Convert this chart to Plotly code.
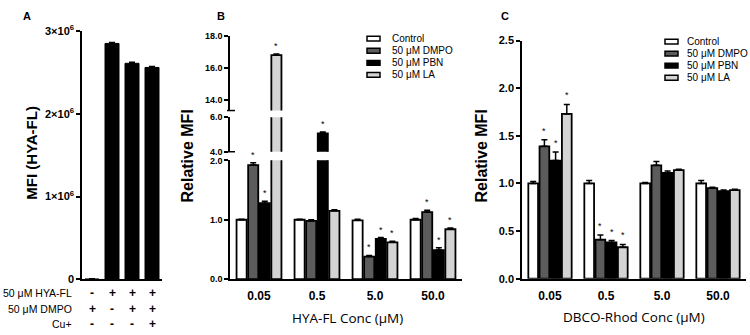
import plotly.graph_objects as go

W, H = 750, 335
FONT = "Liberation Sans"

# ---------------- Panel A data ----------------
a_values = [6e3, 2.85e6, 2.61e6, 2.56e6]
a_errors = [3e3, 1.2e4, 1.2e4, 1.0e4]
a_tickvals = [0, 1e6, 2e6, 3e6]
a_ticktext = ["0", "1×10<sup>6</sup>", "2×10<sup>6</sup>", "3×10<sup>6</sup>"]
a_row_labels = ["50 μM HYA-FL", "50 μM DMPO", "Cu+"]
a_hya = ["-", "+", "+", "+"]
a_dmpo = ["+", "-", "+", "+"]
a_cu = ["-", "-", "-", "+"]

# ---------------- Shared ----------------
conc_labels = ["0.05", "0.5", "5.0", "50.0"]
series_names = ["Control", "50 μM DMPO", "50 μM PBN", "50 μM LA"]
series_colors = ["#ffffff", "#5c5c5c", "#000000", "#d4d4d4"]

# ---------------- Panel B data ----------------
b_control = [1.00, 1.00, 0.99, 1.00]
b_dmpo = [1.92, 0.98, 0.38, 1.13]
b_pbn = [1.28, 5.07, 0.68, 0.49]
b_la = [16.79, 1.15, 0.62, 0.84]
b_control_err = [0.01, 0.01, 0.02, 0.02]
b_dmpo_err = [0.04, 0.02, 0.02, 0.03]
b_pbn_err = [0.03, 0.08, 0.02, 0.04]
b_la_err = [0.08, 0.02, 0.02, 0.02]
b_control_sig = [False, False, False, False]
b_dmpo_sig = [True, False, True, True]
b_pbn_sig = [True, True, True, True]
b_la_sig = [True, False, True, True]
b_segments = [(0, 2), (4, 6), (13.34, 18)]
b_seg_ticks = [[0, 1, 2], [4, 6], [14, 16, 18]]

# ---------------- Panel C data ----------------
c_control = [1.00, 1.00, 1.00, 1.00]
c_dmpo = [1.39, 0.41, 1.19, 0.95]
c_pbn = [1.24, 0.38, 1.11, 0.92]
c_la = [1.73, 0.33, 1.14, 0.93]
c_control_err = [0.02, 0.03, 0.01, 0.03]
c_dmpo_err = [0.07, 0.05, 0.04, 0.01]
c_pbn_err = [0.09, 0.02, 0.02, 0.01]
c_la_err = [0.10, 0.03, 0.01, 0.01]
c_control_sig = [False, False, False, False]
c_dmpo_sig = [True, True, False, False]
c_pbn_sig = [True, True, False, False]
c_la_sig = [True, True, False, False]

B_VALS = [b_control, b_dmpo, b_pbn, b_la]
B_ERRS = [b_control_err, b_dmpo_err, b_pbn_err, b_la_err]
B_SIGS = [b_control_sig, b_dmpo_sig, b_pbn_sig, b_la_sig]
C_VALS = [c_control, c_dmpo, c_pbn, c_la]
C_ERRS = [c_control_err, c_dmpo_err, c_pbn_err, c_la_err]
C_SIGS = [c_control_sig, c_dmpo_sig, c_pbn_sig, c_la_sig]

BARGAP = 0.2
BARGROUPGAP = 0.13


def px(x):
    return x / W


def py(y):
    return 1 - y / H


fig = go.Figure()
annotations = []
shapes = []

# ---------------- Panel A ----------------
xs = list(range(len(a_values)))
fig.add_trace(go.Bar(
    x=xs, y=a_values, width=0.7, xaxis="x", yaxis="y",
    marker=dict(color="black", line=dict(color="black", width=1)),
    error_y=dict(type="data", array=a_errors, arrayminus=[0] * 4, symmetric=False,
                 color="black", thickness=1.5, width=3),
    showlegend=False, hoverinfo="skip"))

for row, (label, signs) in enumerate(zip(a_row_labels, [a_hya, a_dmpo, a_cu])):
    yy = py([297, 314, 330][row])
    annotations.append(dict(x=px(74), y=yy, xref="paper", yref="paper", text=label,
                            showarrow=False, xanchor="right", yanchor="middle",
                            font=dict(family=FONT, size=10.5, color="black")))
    for i, s in enumerate(signs):
        annotations.append(dict(x=i, y=yy, xref="x", yref="paper", text="<b>%s</b>" % s,
                                showarrow=False, xanchor="center", yanchor="middle",
                                font=dict(family=FONT, size=12, color="black")))

# ---------------- Panel B (broken axis) ----------------
slot = (1 - BARGAP) / 4
b_axes = [("x2", "y2"), ("x3", "y3"), ("x4", "y4")]


def seg_index(v):
    for k in range(len(b_segments) - 1, -1, -1):
        if v >= b_segments[k][0]:
            return k
    return 0


for k, (xa, ya) in enumerate(b_axes):
    for j in range(4):
        vals = B_VALS[j]
        errs = [B_ERRS[j][i] if seg_index(vals[i]) == k else None for i in range(4)]
        fig.add_trace(go.Bar(
            x=list(range(4)), y=vals, xaxis=xa, yaxis=ya, name=series_names[j],
            marker=dict(color=series_colors[j], line=dict(color="black", width=1.8)),
            error_y=dict(type="data", array=errs, arrayminus=[0] * 4, symmetric=False,
                         color="black", thickness=1.5, width=3),
            showlegend=False, hoverinfo="skip"))
for j in range(4):
    for i in range(4):
        if B_SIGS[j][i]:
            v = B_VALS[j][i]
            k = seg_index(v)
            annotations.append(dict(x=i + (j - 1.5) * slot, y=v + B_ERRS[j][i],
                                    xref=b_axes[k][0], yref=b_axes[k][1], text="*",
                                    showarrow=False, xanchor="center", yanchor="bottom",
                                    yshift=1, font=dict(family=FONT, size=9, color="black")))

# break marks at segment ends
for yb in [107, 150]:
    shapes.append(dict(type="line", xref="paper", yref="paper", x0=px(227), x1=px(235),
                       y0=py(yb), y1=py(yb), line=dict(color="black", width=1.5)))

# ---------------- Panel C ----------------
for j in range(4):
    fig.add_trace(go.Bar(
        x=list(range(4)), y=C_VALS[j], xaxis="x5", yaxis="y5", name=series_names[j],
        marker=dict(color=series_colors[j], line=dict(color="black", width=1.8)),
        error_y=dict(type="data", array=C_ERRS[j], arrayminus=[0] * 4, symmetric=False,
                     color="black", thickness=1.5, width=3),
        showlegend=False, hoverinfo="skip"))
    for i in range(4):
        if C_SIGS[j][i]:
            annotations.append(dict(x=i + (j - 1.5) * slot, y=C_VALS[j][i] + C_ERRS[j][i],
                                    xref="x5", yref="y5", text="*", showarrow=False,
                                    xanchor="center", yanchor="bottom", yshift=2,
                                    font=dict(family=FONT, size=9, color="black")))

# ---------------- Legends (drawn) ----------------
for (lx, ly0, tx) in [(367, 32, 390), (665, 35, 685)]:
    for j, name in enumerate(series_names):
        yc = ly0 + j * 12.6
        shapes.append(dict(type="rect", xref="paper", yref="paper",
                           x0=px(lx), x1=px(lx + 13), y0=py(yc + 2.5), y1=py(yc - 2.5),
                           fillcolor=series_colors[j], line=dict(color="black", width=1.5)))
        annotations.append(dict(x=px(tx), y=py(yc), xref="paper", yref="paper", text=name,
                                showarrow=False, xanchor="left", yanchor="middle",
                                font=dict(family=FONT, size=10, color="black")))

# ---------------- Titles / panel letters ----------------
for letter, x in [("A", 27), ("B", 221), ("C", 505)]:
    annotations.append(dict(x=px(x), y=py(8), xref="paper", yref="paper", text="<b>%s</b>" % letter,
                            showarrow=False, xanchor="center", yanchor="middle",
                            font=dict(family=FONT, size=11, color="black")))
for text, x, y, fs in [("MFI (HYA-FL)", 32, 151, 15), ("Relative MFI", 188, 155, 16),
                       ("Relative MFI", 482, 155, 16)]:
    annotations.append(dict(x=px(x), y=py(y), xref="paper", yref="paper", text="<b>%s</b>" % text,
                            showarrow=False, textangle=-90, xanchor="center", yanchor="middle",
                            font=dict(family=FONT, size=fs, color="black")))
for text, x, y in [("HYA-FL Conc (μM)", 347, 323), ("DBCO-Rhod Conc (μM)", 634, 322)]:
    annotations.append(dict(x=px(x), y=py(y), xref="paper", yref="paper", text=text,
                            showarrow=False, xanchor="center", yanchor="middle",
                            font=dict(family="Open Sans", size=13.5, color="black")))

yax_common = dict(showline=True, linecolor="black", linewidth=1.5, ticks="outside",
                  ticklen=4, tickwidth=1.5, tickcolor="black", showgrid=False, zeroline=False,
                  tickfont=dict(family=FONT, size=9, color="black", weight="bold"))
xax_common = dict(showline=True, linecolor="black", linewidth=1.5, ticks="", showgrid=False,
                  zeroline=False, range=[-0.5, 3.5],
                  tickfont=dict(family=FONT, size=12, color="black", weight="bold"))

bx0, bx1 = px(230), px(462)
layout = dict(
    width=W, height=H, margin=dict(l=0, r=0, t=0, b=0),
    paper_bgcolor="white", plot_bgcolor="white",
    barmode="group", bargap=BARGAP, bargroupgap=BARGROUPGAP,
    showlegend=False,
    xaxis=dict(xax_common, domain=[px(82), px(162)], anchor="y", showticklabels=False),
    yaxis=dict(yax_common, domain=[py(283.3), py(24)], range=[0, 3e6], anchor="x",
               tickvals=a_tickvals, ticktext=a_ticktext,
               tickfont=dict(family=FONT, size=11, color="black", weight="bold")),
    xaxis2=dict(xax_common, domain=[bx0, bx1], anchor="y2", tickvals=list(range(4)),
                ticktext=conc_labels, ticklabelstandoff=5),
    yaxis2=dict(yax_common, domain=[py(283), py(159)], range=list(b_segments[0]), anchor="x2",
                tickvals=b_seg_ticks[0], tickformat=".1f"),
    xaxis3=dict(xax_common, domain=[bx0, bx1], anchor="y3", visible=False),
    yaxis3=dict(yax_common, domain=[py(150), py(114)], range=list(b_segments[1]), anchor="x3",
                tickvals=b_seg_ticks[1], tickformat=".1f"),
    xaxis4=dict(xax_common, domain=[bx0, bx1], anchor="y4", visible=False),
    yaxis4=dict(yax_common, domain=[py(107), py(29)], range=list(b_segments[2]), anchor="x4",
                tickvals=b_seg_ticks[2], tickformat=".1f"),
    xaxis5=dict(xax_common, domain=[px(522), px(746)], anchor="y5", tickvals=list(range(4)),
                ticktext=conc_labels, ticklabelstandoff=5),
    yaxis5=dict(yax_common, domain=[py(282.5), py(34)], range=[0, 2.5], anchor="x5",
                dtick=0.5, tickformat=".1f",
                tickfont=dict(family=FONT, size=11, color="black", weight="bold")),
    annotations=annotations, shapes=shapes,
)
fig.update_layout(**layout)
fig.write_html("out.html", config={"displayModeBar": False},
               post_script="document.body.style.margin='0';document.body.style.overflow='hidden';")
